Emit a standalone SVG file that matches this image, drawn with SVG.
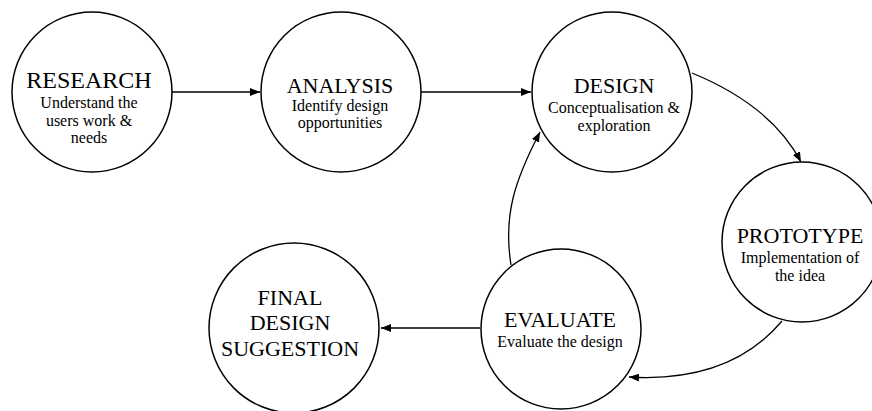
<svg xmlns="http://www.w3.org/2000/svg" width="872" height="411" viewBox="0 0 872 411">
  <style>
    .node { fill: #ffffff; stroke: #000000; stroke-width: 1.5; }
    .title { font-family: "Liberation Serif", "Times New Roman", serif; font-size: 22px; fill: #000000; text-anchor: middle; }
    .big { font-size: 24px; }
    .sub { font-family: "Liberation Serif", "Times New Roman", serif; font-size: 16px; fill: #000000; text-anchor: middle; }
    .edge { fill: none; stroke: #000000; stroke-width: 1.3; marker-end: url(#arrow); }
  </style>
  <defs>
    <marker id="arrow" viewBox="0 0 10 8" refX="10" refY="4" markerWidth="10" markerHeight="8" markerUnits="userSpaceOnUse" orient="auto">
      <path d="M0,0 L10,4 L0,8 Z" fill="#000000"/>
    </marker>
  </defs>

  <rect width="872" height="411" fill="#ffffff"/>

  <!-- connectors -->
  <g id="connectors">
    <path class="edge" d="M172,92 L260,92"/>
    <path class="edge" d="M421,92 L531,92"/>
    <path class="edge" d="M692,73 Q772,106 801,162"/>
    <path class="edge" d="M782,321 Q730,383 629,377"/>
    <path class="edge" d="M480,328 L381,328"/>
    <path class="edge" d="M511,265 C503,215 515,180 540,132"/>
  </g>

  <!-- nodes -->
  <g id="research">
    <circle class="node" cx="92" cy="92" r="80"/>
    <text class="title big" x="89" y="88">RESEARCH</text>
    <text class="sub" x="89" y="108">Understand the</text>
    <text class="sub" x="89" y="126">users work &amp;</text>
    <text class="sub" x="89" y="143">needs</text>
  </g>

  <g id="analysis">
    <circle class="node" cx="341" cy="92" r="80"/>
    <text class="title" x="340" y="93">ANALYSIS</text>
    <text class="sub" x="340" y="111">Identify design</text>
    <text class="sub" x="340" y="128">opportunities</text>
  </g>

  <g id="design">
    <circle class="node" cx="612" cy="92" r="80"/>
    <text class="title" x="614" y="93">DESIGN</text>
    <text class="sub" x="614" y="113">Conceptualisation &amp;</text>
    <text class="sub" x="614" y="131">exploration</text>
  </g>

  <g id="prototype">
    <circle class="node" cx="802" cy="242" r="80"/>
    <text class="title" x="800" y="243">PROTOTYPE</text>
    <text class="sub" x="800" y="263">Implementation of</text>
    <text class="sub" x="800" y="281">the idea</text>
  </g>

  <g id="evaluate">
    <circle class="node" cx="561" cy="329" r="80"/>
    <text class="title" x="560" y="327">EVALUATE</text>
    <text class="sub" x="560" y="347">Evaluate the design</text>
  </g>

  <g id="final">
    <circle class="node" cx="294" cy="328" r="85"/>
    <text class="title" x="290" y="305">FINAL</text>
    <text class="title" x="290" y="330">DESIGN</text>
    <text class="title" x="290" y="356">SUGGESTION</text>
  </g>
</svg>
